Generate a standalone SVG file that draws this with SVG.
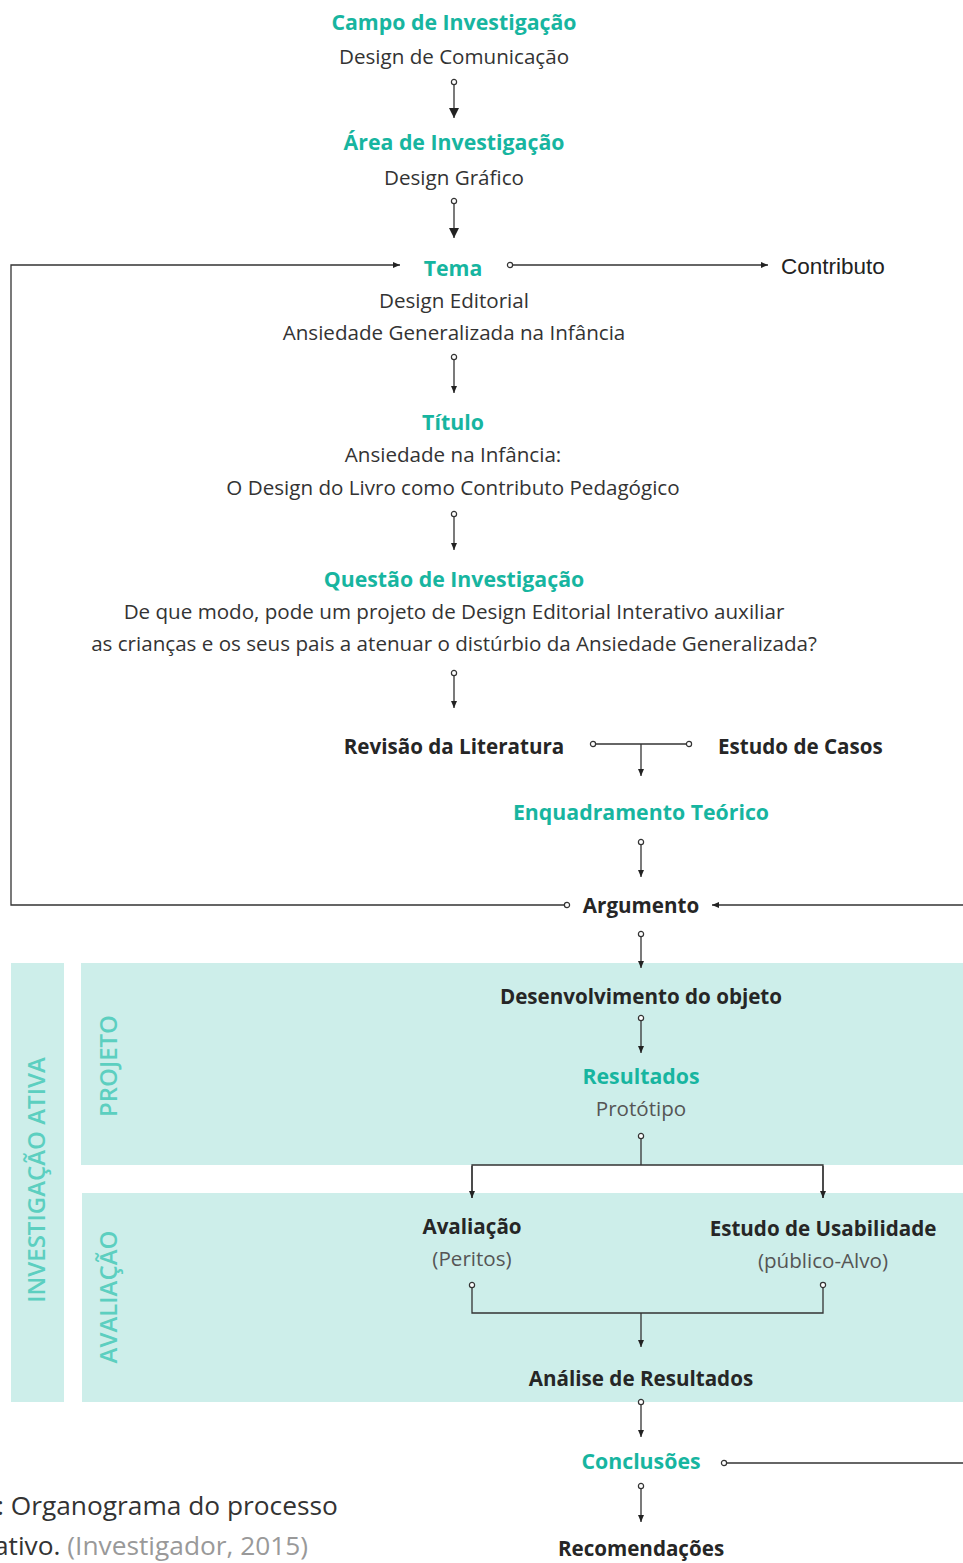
<svg xmlns="http://www.w3.org/2000/svg" width="963" height="1563" viewBox="0 0 963 1563">
<style>
text{font-family:"Open Sans","Noto Sans",sans-serif;}
.h{font-size:21.3px;font-weight:700;fill:#17b5a0;text-anchor:middle;}
.b{font-size:20.6px;font-weight:700;fill:#262626;text-anchor:middle;}
.t{font-size:20.6px;fill:#333;text-anchor:middle;}
.g{font-size:20.6px;fill:#555;text-anchor:middle;}
.v{font-size:24px;font-weight:600;fill:#5ccfc0;text-anchor:middle;}
.ln{fill:none;stroke:#333;stroke-width:1.3;}
.box{fill:#cdeeea;}
</style>
<defs>
<marker id="ab" markerUnits="userSpaceOnUse" markerWidth="12" markerHeight="12" viewBox="0 0 12 12" refX="11" refY="6" orient="auto"><path d="M1,1 L11,6 L1,11 Z" fill="#222"/></marker>
<marker id="as" markerUnits="userSpaceOnUse" markerWidth="8" markerHeight="8" viewBox="0 0 8 8" refX="7.5" refY="4" orient="auto"><path d="M0.5,1 L7.5,4 L0.5,7 Z" fill="#222"/></marker>
<marker id="c" markerUnits="userSpaceOnUse" markerWidth="10" markerHeight="10" viewBox="0 0 10 10" refX="5" refY="5" orient="auto"><circle cx="5" cy="5" r="2.6" fill="#fff" stroke="#333" stroke-width="1.2"/></marker>
</defs>
<g id="boxes">
<rect class="box" x="11" y="963" width="53" height="439"/>
<rect class="box" x="81" y="963" width="882" height="202"/>
<rect class="box" x="82" y="1193" width="881" height="209"/>
<text class="v" transform="translate(45,1180) rotate(-90)">INVESTIGAÇÃO ATIVA</text>
<text class="v" transform="translate(117,1066) rotate(-90)">PROJETO</text>
<text class="v" transform="translate(117,1297) rotate(-90)">AVALIAÇÃO</text>
</g>
<g id="connectors">
<path class="ln" d="M454,82 V118" marker-start="url(#c)" marker-end="url(#ab)"/>
<path class="ln" d="M454,201 V238" marker-start="url(#c)" marker-end="url(#ab)"/>
<path class="ln" d="M454,357 V393" marker-start="url(#c)" marker-end="url(#as)"/>
<path class="ln" d="M454,514 V550" marker-start="url(#c)" marker-end="url(#as)"/>
<path class="ln" d="M454,673 V708" marker-start="url(#c)" marker-end="url(#as)"/>
<path class="ln" d="M510,265 H768" marker-start="url(#c)" marker-end="url(#as)"/>
<path class="ln" d="M567,905 H11 V265 H400" marker-start="url(#c)" marker-end="url(#as)"/>
<path class="ln" d="M593,744 H689" marker-start="url(#c)" marker-end="url(#c)"/>
<path class="ln" d="M641,744 V776" marker-end="url(#as)"/>
<path class="ln" d="M641,842 V877" marker-start="url(#c)" marker-end="url(#as)"/>
<path class="ln" d="M965,905 H712" marker-end="url(#as)"/>
<path class="ln" d="M641,934 V968" marker-start="url(#c)" marker-end="url(#as)"/>
<path class="ln" d="M641,1018 V1053" marker-start="url(#c)" marker-end="url(#as)"/>
<path class="ln" d="M641,1136 V1165"  marker-start="url(#c)"/>
<path class="ln" d="M472,1198 V1165 H823 V1198"/>
<path class="ln" d="M472,1166 V1198" marker-end="url(#as)"/>
<path class="ln" d="M823,1166 V1198" marker-end="url(#as)"/>
<path class="ln" d="M472,1285 V1313 H823 V1285" marker-start="url(#c)" marker-end="url(#c)"/>
<path class="ln" d="M641,1313 V1347" marker-end="url(#as)"/>
<path class="ln" d="M641,1402 V1437" marker-start="url(#c)" marker-end="url(#as)"/>
<path class="ln" d="M724,1463 H965" marker-start="url(#c)"/>
<path class="ln" d="M641,1486 V1522" marker-start="url(#c)" marker-end="url(#as)"/>
</g>
<g id="campo"><text class="h" x="454" y="30">Campo de Investigação</text><text class="t" x="454" y="64">Design de Comunicação</text></g>
<g id="area"><text class="h" x="454" y="150">Área de Investigação</text><text class="t" x="454" y="185">Design Gráfico</text></g>
<g id="tema"><text class="h" x="453" y="276">Tema</text><text class="t" x="454" y="308">Design Editorial</text><text class="t" x="454" y="340">Ansiedade Generalizada na Infância</text></g>
<g id="contributo"><text x="781" y="274" style="font-family:'Liberation Sans',Arial,sans-serif;font-size:22.5px;fill:#222">Contributo</text></g>
<g id="titulo"><text class="h" x="453" y="430">Título</text><text class="t" x="453" y="462">Ansiedade na Infância:</text><text class="t" x="453" y="495">O Design do Livro como Contributo Pedagógico</text></g>
<g id="questao"><text class="h" x="454" y="587">Questão de Investigação</text><text class="t" x="454" y="619">De que modo, pode um projeto de Design Editorial Interativo auxiliar</text><text class="t" x="454" y="651">as crianças e os seus pais a atenuar o distúrbio da Ansiedade Generalizada?</text></g>
<g id="revisao"><text class="b" x="454" y="754">Revisão da Literatura</text></g>
<g id="casos"><text class="b" x="718" y="754" style="text-anchor:start">Estudo de Casos</text></g>
<g id="enquadramento"><text class="h" x="641" y="820">Enquadramento Teórico</text></g>
<g id="argumento"><text class="b" x="641" y="913">Argumento</text></g>
<g id="desenvolvimento"><text class="b" x="641" y="1004">Desenvolvimento do objeto</text></g>
<g id="resultados"><text class="h" x="641" y="1084">Resultados</text><text class="g" x="641" y="1116">Protótipo</text></g>
<g id="avaliacao"><text class="b" x="472" y="1234">Avaliação</text><text class="g" x="472" y="1266">(Peritos)</text></g>
<g id="usabilidade"><text class="b" x="823" y="1236">Estudo de Usabilidade</text><text class="g" x="823" y="1268">(público-Alvo)</text></g>
<g id="analise"><text class="b" x="641" y="1386">Análise de Resultados</text></g>
<g id="conclusoes"><text class="h" x="641" y="1469">Conclusões</text></g>
<g id="recomendacoes"><text class="b" x="641" y="1556">Recomendações</text></g>
<g id="caption">
<text x="-3" y="1515" style="font-size:26.3px;fill:#333">: Organograma do processo</text>
<text x="-6" y="1555" style="font-size:26.3px;fill:#333">ativo. <tspan fill="#999">(Investigador, 2015)</tspan></text>
</g>
</svg>
